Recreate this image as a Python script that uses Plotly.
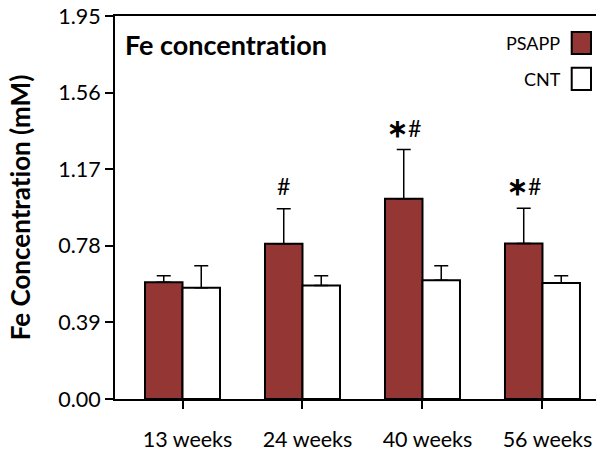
import plotly.graph_objects as go

categories = ["13 weeks", "24 weeks", "40 weeks", "56 weeks"]
psapp_values = [0.594, 0.791, 1.019, 0.792]
psapp_err = [0.034, 0.178, 0.251, 0.179]
cnt_values = [0.566, 0.578, 0.605, 0.591]
cnt_err = [0.112, 0.050, 0.074, 0.037]
sig_marks = ["", "#", "∗#", "∗#"]
y_ticks = [0.00, 0.39, 0.78, 1.17, 1.56, 1.95]

FONT = "Lato"
RED = "#943634"
NOLIG = "<span style='font-variant-ligatures:none'>{}</span>"

fig = go.Figure()
fig.add_trace(go.Bar(
    x=categories, y=psapp_values, name="PSAPP",
    marker=dict(color=RED, line=dict(color="black", width=2)),
    error_y=dict(type="data", array=psapp_err, arrayminus=[0]*4, symmetric=False,
                 color="black", thickness=1.5, width=7),
))
fig.add_trace(go.Bar(
    x=categories, y=cnt_values, name="CNT",
    marker=dict(color="white", line=dict(color="black", width=2)),
    error_y=dict(type="data", array=cnt_err, arrayminus=[0]*4, symmetric=False,
                 color="black", thickness=1.5, width=7),
))

annotations = []
for i, (v, e, m) in enumerate(zip(psapp_values, psapp_err, sig_marks)):
    if not m:
        continue
    txt = m.replace("∗", "<b><span style='font-size:25px'>∗</span></b>")
    annotations.append(dict(
        x=i - 0.156, y=v + e, xref="x", yref="y", text=txt, showarrow=False,
        yanchor="middle", yshift=23, font=dict(family=FONT, size=23, color="black"),
    ))

annotations.append(dict(x=0.0166, y=0.925, xref="paper", yref="paper",
                        text="<b>" + NOLIG.format("Fe concentration") + "</b>", showarrow=False,
                        xanchor="left", yanchor="middle",
                        font=dict(family=FONT, size=27, color="black")))
annotations.append(dict(x=0.930, y=0.930, xref="paper", yref="paper", text="PSAPP",
                        showarrow=False, xanchor="right", yanchor="middle",
                        font=dict(family=FONT, size=18, color="black")))
annotations.append(dict(x=0.932, y=0.835, xref="paper", yref="paper", text="CNT",
                        showarrow=False, xanchor="right", yanchor="middle",
                        font=dict(family=FONT, size=18, color="black")))

shapes = [
    dict(type="rect", xref="paper", yref="paper", x0=0.9495, x1=0.9896, y0=0.901, y1=0.958,
         fillcolor=RED, line=dict(color="black", width=2)),
    dict(type="rect", xref="paper", yref="paper", x0=0.9495, x1=0.9896, y0=0.807, y1=0.865,
         fillcolor="white", line=dict(color="black", width=2)),
]

fig.update_layout(
    width=596, height=452,
    margin=dict(l=115, r=0, t=16, b=49),
    paper_bgcolor="white", plot_bgcolor="white",
    barmode="group", bargap=0.375, bargroupgap=0,
    showlegend=False,
    annotations=annotations, shapes=shapes,
    font=dict(family=FONT, color="black"),
)
fig.update_xaxes(
    range=[-0.5625, 3.446], showline=True, linecolor="black", linewidth=2, mirror=True,
    ticks="outside", ticklen=8, tickwidth=2, tickcolor="black",
    tickfont=dict(family=FONT, size=21.5, color="black"), ticklabelstandoff=12,
    ticklabelshift=5,
    showgrid=False, zeroline=False,
)
fig.update_yaxes(
    range=[0, 1.95], tickvals=y_ticks, ticktext=[f"{t:.2f}" for t in y_ticks],
    showline=True, linecolor="black", linewidth=2,
    ticks="outside", ticklen=8, tickwidth=2, tickcolor="black",
    tickfont=dict(family=FONT, size=21.5, color="black"),
    title=dict(text="<b>" + NOLIG.format("Fe Concentration (mM)") + "</b>",
               font=dict(family=FONT, size=26, color="black"), standoff=20),
    showgrid=False, zeroline=False,
)

fig.write_html("out.html", config={"displayModeBar": False},
               post_script="document.body.style.margin='0';document.body.style.overflow='hidden';")
